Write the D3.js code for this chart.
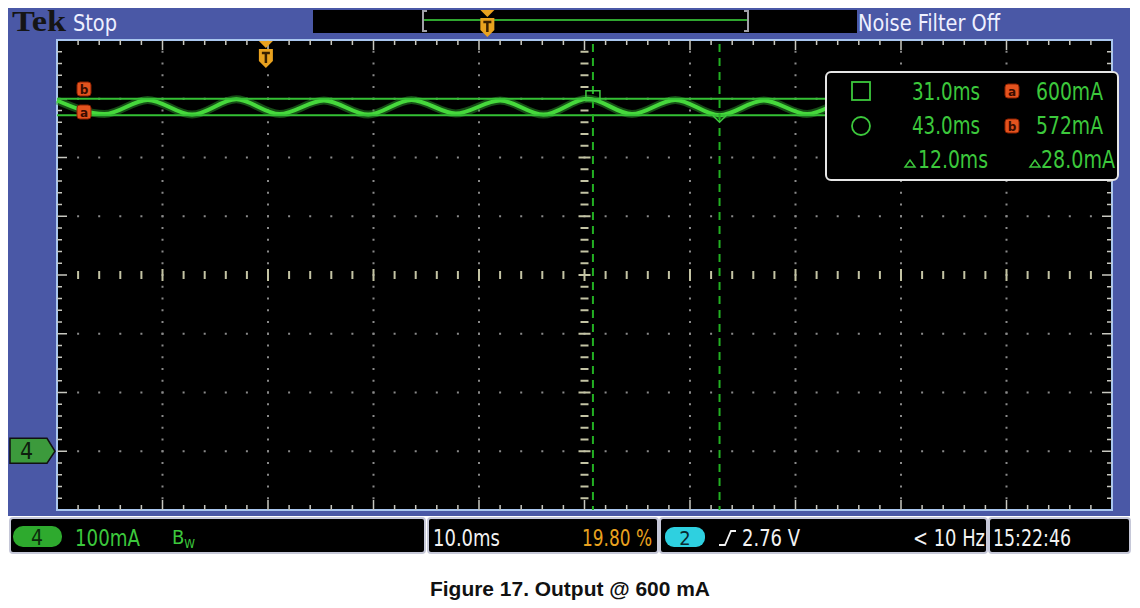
<!DOCTYPE html>
<html>
<head>
<meta charset="utf-8">
<script src="https://cdn.jsdelivr.net/npm/d3@7"></script>
<style>
  body { margin: 0; background: #fff; }
  svg { display: block; }
  .scope { font-family: 'Liberation Sans Narrow', 'DejaVu Sans Condensed', 'Roboto', sans-serif; }
</style>
</head>
<body>
<svg></svg>
<script>
// trace: peaks and troughs (time in ms from trigger, current in mA)
const waveTime = [-19.8, -15.3, -11.2, -7.0, -2.8, 1.3, 5.5, 9.7, 13.8, 18.0, 22.2, 26.3, 30.5,
  34.7, 38.8, 43.0, 47.2, 51.3, 55.5, 59.7, 63.8, 68.0, 72.2, 76.3, 80.2];
const waveCurrent = [597, 574, 598, 573, 599, 574, 597, 573, 598, 575, 597, 573, 600,
  574, 598, 572, 597, 574, 598, 573, 597, 574, 598, 573, 597];

const cursorTimes = [31.0, 43.0];
const cursorLevels = [600, 572];
const cursorLabels = ['a', 'b'];

const timeDomain = [-19.8, 80.2];   // 10 ms/div, trigger at 19.80 %
const currentDomain = [-100, 700];  // 100 mA/div, ground 3 div below centre

const readoutTimes = ['31.0ms', '43.0ms', '12.0ms'];
const readoutLevels = ['600mA', '572mA', '28.0mA'];

const width = 1140;
const height = 608;
const plotLeft = 57, plotRight = 1112, plotTop = 40, plotBottom = 510;

const blue = '#4a58a6';
const green = '#3cc83c';
const orange = '#e9a21f';

const svg = d3.select('svg').attr('width', width).attr('height', height);

const xScale = d3.scaleLinear().domain(timeDomain).range([plotLeft, plotRight]);
const yScale = d3.scaleLinear().domain(currentDomain).range([plotBottom, plotTop]);
const divX = d3.scaleLinear().domain([0, 10]).range([plotLeft, plotRight]);
const divY = d3.scaleLinear().domain([-4, 4]).range([plotBottom, plotTop]);
const recScale = d3.scaleLinear().domain(timeDomain).range([423, 748]);

const drawFrame = () => {
  svg.append('rect').attr('x', 8).attr('y', 8).attr('width', 1122).attr('height', 508).attr('fill', blue);
  svg.append('rect').attr('x', plotLeft).attr('y', plotTop).attr('width', plotRight - plotLeft).attr('height', plotBottom - plotTop)
    .attr('fill', '#000').attr('stroke', '#a9c6ee').attr('stroke-width', 2);

  svg.append('text').attr('x', 12).attr('y', 31).attr('font-family', "'Liberation Serif', 'DejaVu Serif', serif")
    .attr('font-weight', 'bold').attr('font-size', 30).attr('fill', '#151515')
    .attr('textLength', 54).attr('lengthAdjust', 'spacingAndGlyphs').text('Tek');
  svg.append('text').attr('class', 'scope').attr('x', 73).attr('y', 31).attr('font-size', 23)
    .attr('fill', '#eef0ff').attr('textLength', 44).attr('lengthAdjust', 'spacingAndGlyphs').text('Stop');
  svg.append('text').attr('class', 'scope').attr('x', 858).attr('y', 31).attr('font-size', 23)
    .attr('fill', '#eef0ff').attr('textLength', 142).attr('lengthAdjust', 'spacingAndGlyphs').text('Noise Filter Off');

  // record view bar
  svg.append('rect').attr('x', 313).attr('y', 10).attr('width', 544).attr('height', 23).attr('fill', '#000');
  svg.append('line').attr('x1', recScale(timeDomain[0])).attr('x2', recScale(timeDomain[1]))
    .attr('y1', 20).attr('y2', 20).attr('stroke', '#2fa52f').attr('stroke-width', 2);
  [[423, 1], [748, -1]].forEach(([bx, d]) => {
    svg.append('path').attr('d', `M${bx + 4 * d},11 L${bx},11 L${bx},31 L${bx + 4 * d},31`)
      .attr('fill', 'none').attr('stroke', '#a0a0a8').attr('stroke-width', 2);
  });
};

const triggerMark = (cx, ty) => {
  const gm = svg.append('g').attr('transform', `translate(${cx},${ty})`);
  gm.append('path').attr('d', 'M-7,0 L7,0 L0,7 Z').attr('fill', orange);
  gm.append('path').attr('d', 'M-7,8 L7,8 L7,20 L0,27 L-7,20 Z').attr('fill', orange);
  gm.append('path').attr('d', 'M-4,12 L4,12 M0,12 L0,22').attr('stroke', '#3a2000').attr('stroke-width', 2.5);
};

const isMajor = (d) => Math.abs(d - Math.round(d)) < 1e-6;

const drawGraticule = () => {
  const gr = svg.append('g');
  const minorX = d3.range(0, 50.5).map((j) => j / 5);
  const minorY = d3.range(0, 40.5).map((j) => -4 + j / 5);
  // dotted division lines
  d3.range(1, 10).filter((k) => k !== 5).forEach((k) => {
    gr.selectAll(null).data(minorY.slice(1, -1)).enter().append('rect')
      .attr('x', divX(k) - 1).attr('y', (d) => divY(d) - 1).attr('width', 2).attr('height', 2).attr('fill', '#8a8a8a');
  });
  d3.range(-3, 4).filter((k) => k !== 0).forEach((k) => {
    gr.selectAll(null).data(minorX.slice(1, -1)).enter().append('rect')
      .attr('x', (d) => divX(d) - 1).attr('y', divY(k) - 1).attr('width', 2).attr('height', 2).attr('fill', '#8a8a8a');
  });
  // centre lines with ticks
  gr.selectAll(null).data(minorX.slice(1, -1)).enter().append('line')
    .attr('x1', (d) => divX(d)).attr('x2', (d) => divX(d))
    .attr('y1', (d) => divY(0) - (isMajor(d) ? 6 : 4))
    .attr('y2', (d) => divY(0) + (isMajor(d) ? 6 : 4))
    .attr('stroke', '#c4c4a4').attr('stroke-width', 2);
  gr.selectAll(null).data(minorY.slice(1, -1)).enter().append('line')
    .attr('y1', (d) => divY(d)).attr('y2', (d) => divY(d))
    .attr('x1', (d) => divX(5) - (isMajor(d) ? 6 : 4))
    .attr('x2', (d) => divX(5) + (isMajor(d) ? 6 : 4))
    .attr('stroke', '#c4c4a4').attr('stroke-width', 2);
  // edge ticks
  gr.selectAll(null).data(minorX.slice(1, -1)).enter().append('path')
    .attr('d', (d) => {
      const len = isMajor(d) ? 10 : 5;
      return `M${divX(d)},${plotTop} v${len} M${divX(d)},${plotBottom} v${-len}`;
    })
    .attr('stroke', '#c8c8c0').attr('stroke-width', 1.5);
  gr.selectAll(null).data(minorY.slice(1, -1)).enter().append('path')
    .attr('d', (d) => {
      const len = isMajor(d) ? 10 : 5;
      return `M${plotLeft},${divY(d)} h${len} M${plotRight},${divY(d)} h${-len}`;
    })
    .attr('stroke', '#c8c8c0').attr('stroke-width', 1.5);
};

const badge = (bx, by, lab) => {
  svg.append('rect').attr('x', bx - 7).attr('y', by - 7).attr('width', 14).attr('height', 14).attr('rx', 3)
    .attr('fill', '#e4531e').attr('stroke', '#8a2000').attr('stroke-width', 1);
  svg.append('text').attr('x', bx).attr('y', by + 4.5).attr('text-anchor', 'middle')
    .attr('font-family', 'DejaVu Sans, sans-serif').attr('font-weight', 'bold').attr('font-size', 12)
    .attr('fill', '#3a0c00').text(lab);
};

const drawTrace = () => {
  const points = waveTime.map((t, i) => [t, waveCurrent[i]]);
  const line = d3.line().x((d) => xScale(d[0])).y((d) => yScale(d[1])).curve(d3.curveMonotoneX);
  const tg = svg.append('g');
  tg.append('path').attr('d', line(points)).attr('fill', 'none')
    .attr('stroke', '#2c9a2c').attr('stroke-width', 8).attr('opacity', 0.5);
  tg.append('path').attr('d', line(points)).attr('fill', 'none')
    .attr('stroke', '#46d83c').attr('stroke-width', 4);

  // cursors
  cursorLevels.forEach((v) => {
    svg.append('line').attr('x1', plotLeft).attr('x2', plotRight).attr('y1', yScale(v)).attr('y2', yScale(v))
      .attr('stroke', '#34c034').attr('stroke-width', 2);
  });
  cursorTimes.forEach((t) => {
    svg.append('line').attr('x1', xScale(t)).attr('x2', xScale(t)).attr('y1', plotTop + 4).attr('y2', plotBottom)
      .attr('stroke', '#22b022').attr('stroke-width', 2).attr('stroke-dasharray', '8,6');
  });
  svg.append('rect').attr('x', xScale(cursorTimes[0]) - 7).attr('y', yScale(cursorLevels[0]) - 8)
    .attr('width', 14).attr('height', 10).attr('fill', 'none').attr('stroke', '#40c840').attr('stroke-width', 1.5);
  const cx = xScale(cursorTimes[1]), cy = yScale(cursorLevels[1]);
  svg.append('path').attr('d', `M${cx - 7},${cy} L${cx},${cy + 7} L${cx + 7},${cy}`)
    .attr('fill', 'none').attr('stroke', '#40c840').attr('stroke-width', 1.5);

  // a / b badges on the left
  badge(84, 89, cursorLabels[1]);
  badge(84, 112, cursorLabels[0]);
};

const deltaMark = (dx, dy) => {
  svg.append('path').attr('d', `M${dx},${dy} L${dx + 10},${dy} L${dx + 5},${dy - 7} Z`)
    .attr('fill', 'none').attr('stroke', green).attr('stroke-width', 1.5);
};

const drawReadout = () => {
  svg.append('rect').attr('x', 826).attr('y', 72).attr('width', 292).attr('height', 108).attr('rx', 5)
    .attr('fill', '#000').attr('stroke', '#e6e6e6').attr('stroke-width', 2);
  svg.append('rect').attr('x', 852).attr('y', 82).attr('width', 18).attr('height', 18)
    .attr('fill', 'none').attr('stroke', green).attr('stroke-width', 1.8);
  svg.append('circle').attr('cx', 861).attr('cy', 126).attr('r', 9)
    .attr('fill', 'none').attr('stroke', green).attr('stroke-width', 1.8);

  const rowY = [100, 134, 168];
  readoutTimes.forEach((s, i) => {
    svg.append('text').attr('class', 'scope').attr('x', i < 2 ? 980 : 988).attr('y', rowY[i])
      .attr('text-anchor', 'end').attr('font-size', 24).attr('fill', green)
      .attr('textLength', i < 2 ? 68 : 70).attr('lengthAdjust', 'spacingAndGlyphs').text(s);
  });
  readoutLevels.forEach((s, i) => {
    svg.append('text').attr('class', 'scope').attr('x', i < 2 ? 1103 : 1115).attr('y', rowY[i])
      .attr('text-anchor', 'end').attr('font-size', 24).attr('fill', green)
      .attr('textLength', i < 2 ? 67 : 74).attr('lengthAdjust', 'spacingAndGlyphs').text(s);
  });
  badge(1012, 91, cursorLabels[0]);
  badge(1012, 126, cursorLabels[1]);
  deltaMark(905, 167);
  deltaMark(1030, 167);
};

const drawBottom = () => {
  const boxes = [[10, 415], [428, 230], [660, 327], [989, 141]];
  boxes.forEach(([bx, bw]) => {
    svg.append('rect').attr('x', bx).attr('y', 518).attr('width', bw).attr('height', 35).attr('rx', 3)
      .attr('fill', '#000').attr('stroke', '#c6c8d8').attr('stroke-width', 2);
  });
  svg.append('rect').attr('x', 13).attr('y', 526).attr('width', 49).attr('height', 21).attr('rx', 10)
    .attr('fill', '#2eaa2e');
  svg.append('text').attr('class', 'scope').attr('x', 37).attr('y', 545).attr('text-anchor', 'middle')
    .attr('font-size', 21).attr('fill', '#0c2a0c').text('4');
  const txt = (x, s, fill, w, anchor) =>
    svg.append('text').attr('class', 'scope').attr('x', x).attr('y', 546).attr('font-size', 23)
      .attr('fill', fill).attr('text-anchor', anchor || 'start')
      .attr('textLength', w).attr('lengthAdjust', 'spacingAndGlyphs').text(s);
  txt(75, '100mA', green, 65);
  const bw = svg.append('text').attr('class', 'scope').attr('x', 172).attr('y', 544).attr('font-size', 20)
    .attr('fill', green);
  bw.append('tspan').text('B');
  bw.append('tspan').attr('font-size', 12).attr('dy', 4).text('W');
  txt(433, '10.0ms', '#f2f2f2', 67);
  txt(652, '19.80 %', orange, 70, 'end');
  svg.append('rect').attr('x', 665).attr('y', 527).attr('width', 40).attr('height', 20).attr('rx', 9)
    .attr('fill', '#2ed0e0');
  svg.append('text').attr('class', 'scope').attr('x', 685).attr('y', 545).attr('text-anchor', 'middle')
    .attr('font-size', 20).attr('fill', '#082830').text('2');
  svg.append('path').attr('d', 'M719,545 L725,545 L731,531 L736,531')
    .attr('fill', 'none').attr('stroke', '#f2f2f2').attr('stroke-width', 1.8);
  txt(742, '2.76 V', '#f2f2f2', 58);
  txt(985, '< 10 Hz', '#f2f2f2', 72, 'end');
  txt(993, '15:22:46', '#f2f2f2', 78);
};

const drawMarkers = () => {
  triggerMark(xScale(0), plotTop + 1);
  triggerMark(recScale(0), 10);
  const gy = yScale(0);
  svg.append('path').attr('d', `M10,${gy - 13} L47,${gy - 13} L55,${gy} L47,${gy + 12} L10,${gy + 12} Z`)
    .attr('fill', '#3c9a3c').attr('stroke', '#111').attr('stroke-width', 1.5);
  svg.append('text').attr('class', 'scope').attr('x', 20).attr('y', gy + 8).attr('font-size', 23)
    .attr('fill', '#0e1e0e').text('4');
};

const drawCaption = () => {
  svg.append('text').attr('x', 570).attr('y', 596).attr('text-anchor', 'middle')
    .attr('font-family', "'Liberation Sans', Arial, sans-serif").attr('font-weight', 'bold')
    .attr('font-size', 20).attr('fill', '#111').attr('textLength', 280).attr('lengthAdjust', 'spacingAndGlyphs')
    .text('Figure 17. Output @ 600 mA');
};

drawFrame();
drawGraticule();
drawTrace();
drawReadout();
drawMarkers();
drawBottom();
drawCaption();
</script>
</body>
</html>
